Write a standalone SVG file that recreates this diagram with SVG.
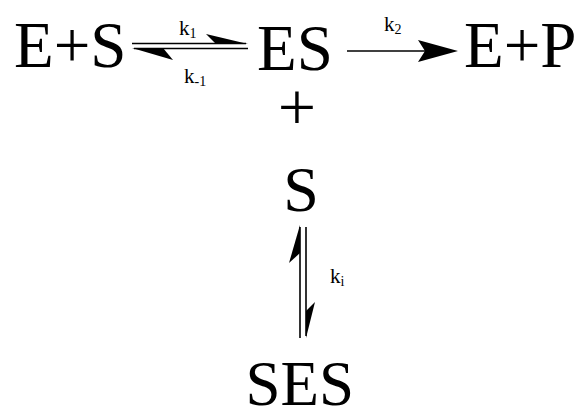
<svg xmlns="http://www.w3.org/2000/svg" width="580" height="406" viewBox="0 0 580 406">
<rect width="580" height="406" fill="#fff"/>
<g id="ES_free"><text x="14" y="67" font-family="Liberation Serif" font-size="65" fill="#000">E+S</text></g>
<g id="ES"><text x="257" y="70" font-family="Liberation Serif" font-size="65" fill="#000">ES</text></g>
<g id="EP"><text x="464" y="67" font-family="Liberation Serif" font-size="65" fill="#000">E+P</text></g>
<g id="plus"><text x="297" y="130" text-anchor="middle" font-family="Liberation Serif" font-size="68" fill="#000">+</text></g>
<g id="S"><text x="301" y="211" text-anchor="middle" font-family="Liberation Serif" font-size="64" fill="#000">S</text></g>
<g id="SES"><text x="299.7" y="405" text-anchor="middle" font-family="Liberation Serif" font-size="63" fill="#000">SES</text></g>
<g id="connectors" stroke="#000" stroke-width="1.6" fill="none">
<line x1="132" y1="43.5" x2="246" y2="43.5"/>
<line x1="134" y1="48.5" x2="248" y2="48.5"/>
<line x1="347" y1="51" x2="430" y2="51"/>
<line x1="300" y1="227" x2="300" y2="338"/>
<line x1="306" y1="227" x2="306" y2="336"/>
<g stroke="none" fill="#000">
<polygon points="248,44 206,34 216,44"/>
<polygon points="132,48 173,60 163,48"/>
<polygon points="458,51 418,40 425,51 418,62"/>
<polygon points="300,225 289,263 300,253"/>
<polygon points="306,338 315,302 306,311"/>
</g>
<g stroke="none" fill="#000">
<text x="179" y="35" font-family="Liberation Serif" font-size="21">k<tspan font-size="14" dy="3">1</tspan></text>
<text x="184" y="83" font-family="Liberation Serif" font-size="21">k<tspan font-size="14" dy="3">-1</tspan></text>
<text x="384" y="31" font-family="Liberation Serif" font-size="21">k<tspan font-size="14" dy="3">2</tspan></text>
<text x="330" y="283" font-family="Liberation Serif" font-size="21">k<tspan font-size="14" dy="3">i</tspan></text>
</g>
</g>
</svg>
